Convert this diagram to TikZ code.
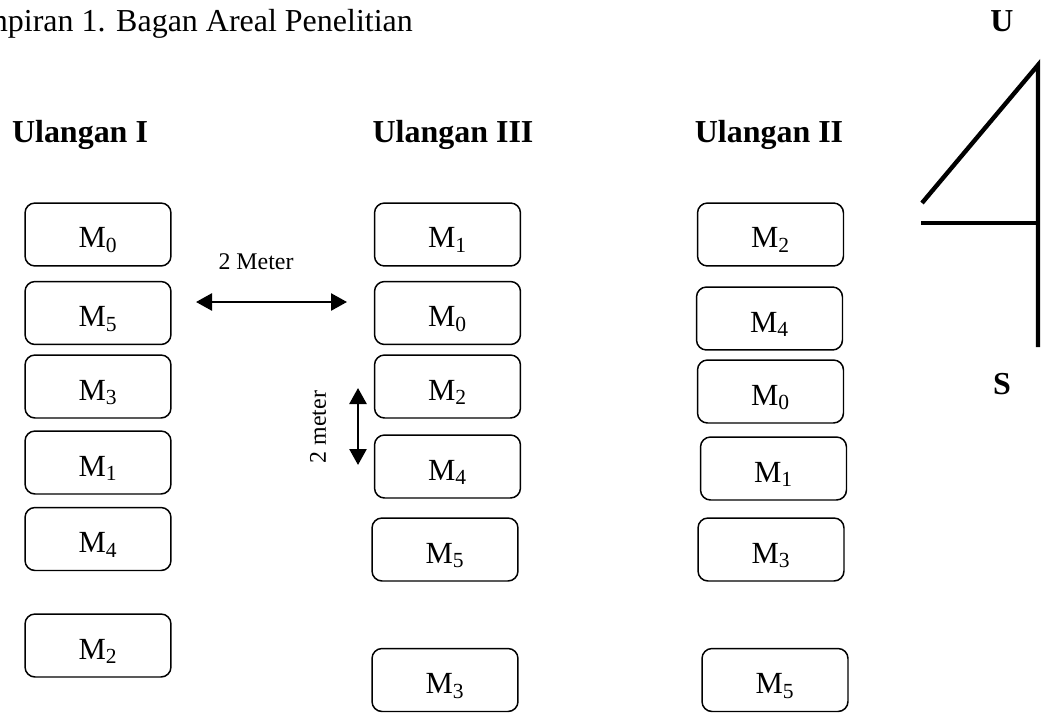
\documentclass[tikz,border=0pt]{standalone}
\usepackage{fontspec}
\setmainfont{Liberation Serif}
\usetikzlibrary{positioning, arrows.meta}

\begin{document}
\begin{tikzpicture}[x=0.02cm, y=-0.02cm,
        every node/.style={font=\fontsize{17.5}{20}\selectfont},
        plot/.style={rectangle, rounded corners=0.2cm, draw, line width=0.85pt, minimum width=2.92cm, minimum height=1.26cm, inner sep=0pt, text height=0.54cm, text depth=0pt},
        head/.style={font=\fontsize{18.2}{21}\selectfont\bfseries, anchor=base},
        jarak/.style={{Triangle[length=0.32cm,width=0.34cm]}-{Triangle[length=0.32cm,width=0.34cm]}, line width=1.5pt},
        small/.style={font=\fontsize{13.6}{16}\selectfont}]
        \useasboundingbox (0,0) rectangle (1041,713);

        % Title
        \node[anchor=base east, font=\fontsize{18.2}{21}\selectfont] (title) at (419,32) {Lampiran 1. Bagan Areal Penelitian};

        % Headings
        \node[head] (head1) at (80,142) {Ulangan I};
        \node[head] (head3) at (453,142) {Ulangan III};
        \node[head] (head2) at (769,142) {Ulangan II};

        % Ulangan I
        \node[plot] (i0) at (98,234.5) {M\textsubscript{0}};
        \node[plot] (i5) at (98,313) {M\textsubscript{5}};
        \node[plot] (i3) at (98,386.5) {M\textsubscript{3}};
        \node[plot] (i1) at (98,462.5) {M\textsubscript{1}};
        \node[plot] (i4) at (98,539) {M\textsubscript{4}};
        \node[plot] (i2) at (98,645.5) {M\textsubscript{2}};

        % Ulangan III
        \node[plot] (iii1) at (447.5,234.5) {M\textsubscript{1}};
        \node[plot] (iii0) at (447.5,313) {M\textsubscript{0}};
        \node[plot] (iii2) at (447.5,386.5) {M\textsubscript{2}};
        \node[plot] (iii4) at (447.5,466.5) {M\textsubscript{4}};
        \node[plot] (iii5) at (445,549.5) {M\textsubscript{5}};
        \node[plot] (iii3) at (445,680) {M\textsubscript{3}};

        % Ulangan II
        \node[plot] (ii2) at (770.5,234.5) {M\textsubscript{2}};
        \node[plot] (ii4) at (769.5,318.5) {M\textsubscript{4}};
        \node[plot] (ii0) at (770.5,391.5) {M\textsubscript{0}};
        \node[plot] (ii1) at (773.5,468.5) {M\textsubscript{1}};
        \node[plot] (ii3) at (771,549.5) {M\textsubscript{3}};
        \node[plot] (ii5) at (775,680) {M\textsubscript{5}};

        % Distances
        \coordinate (h1) at (196,302);
        \coordinate (h2) at (347,302);
        \draw[jarak] (h1) -- (h2);
        \node[small] (meter1) at (256,262) {2 Meter};
        \coordinate (v1) at (358,388);
        \coordinate (v2) at (358,465);
        \draw[jarak] (v1) -- (v2);
        \node[small, rotate=90] (meter2) at (318,427) {2 meter};

        % Compass
        \coordinate (top) at (1038,65);
        \coordinate (bottom) at (1038,347);
        \coordinate (mid) at (1038,223);
        \coordinate (left) at (921,223);
        \coordinate (tip) at (922,203);
        \draw[line width=2.5pt] (tip) -- (top) -- (bottom);
        \draw[line width=2.5pt] (left) -- (mid);
        \node[head] (utara) at (1002,32) {U};
        \node[head] (selatan) at (1002,394) {S};
    \end{tikzpicture}
\end{document}
